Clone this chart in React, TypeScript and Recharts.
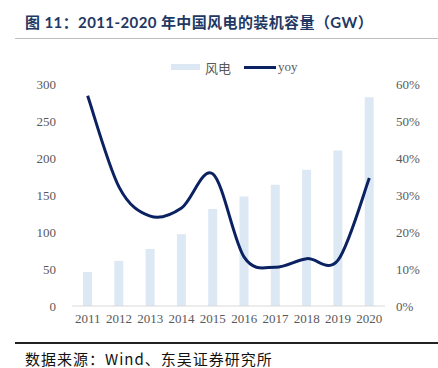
import React from "react";
import { ComposedChart, Bar, Line, XAxis, YAxis } from "recharts";

const years = ["2011", "2012", "2013", "2014", "2015", "2016", "2017", "2018", "2019", "2020"];
const windCapacity = [46, 61, 77, 97, 131, 148, 164, 184, 210, 282];
const yoyPct = [56.8, 32.2, 24.3, 26.5, 35.7, 13.2, 10.5, 12.8, 12.4, 34.6];
const leftTicks = [0, 50, 100, 150, 200, 250, 300];
const rightTicks = [0, 10, 20, 30, 40, 50, 60];

const data = years.map((y, i) => ({ year: y, wind: windCapacity[i], yoy: yoyPct[i] }));

// Catmull-Rom style smoothing (similar to Excel smoothed lines)
const smoothCurve = (context: any) => {
  let pts: [number, number][] = [];
  return {
    areaStart() {},
    areaEnd() {},
    lineStart() {
      pts = [];
    },
    point(x: number, y: number) {
      pts.push([+x, +y]);
    },
    lineEnd() {
      const n = pts.length;
      if (!n) return;
      context.moveTo(pts[0][0], pts[0][1]);
      for (let i = 0; i < n - 1; i++) {
        const p0 = pts[i - 1] || pts[i];
        const p1 = pts[i];
        const p2 = pts[i + 1];
        const p3 = pts[i + 2] || p2;
        const c1x = p1[0] + (p2[0] - p0[0]) / 6;
        const c1y = p1[1] + (p2[1] - p0[1]) / 6;
        const c2x = p2[0] - (p3[0] - p1[0]) / 6;
        const c2y = p2[1] - (p3[1] - p1[1]) / 6;
        context.bezierCurveTo(c1x, c1y, c2x, c2y, p2[0], p2[1]);
      }
    },
  };
};

const BAR_COLOR = "#dde8f5";
const LINE_COLOR = "#0b2262";
const TICK_STYLE = { fill: "#595959", fontSize: 13, fontFamily: "'Liberation Serif', 'DejaVu Serif', serif" };

export default function App() {
  return (
    <div style={{ position: "absolute", left: 0, top: 0, width: 438, height: 368, background: "#fff" }}>
      <div
        style={{
          position: "absolute",
          left: 25,
          top: 11,
          fontSize: 15,
          fontWeight: 700,
          color: "#1f3864",
          fontFamily: "Lato, 'Noto Sans CJK SC', sans-serif",
          whiteSpace: "nowrap",
          letterSpacing: 0.4,
        }}
      >
        图 11：2011-2020 年中国风电的装机容量（GW）
      </div>
      <div style={{ position: "absolute", left: 15, top: 38, width: 423, height: 1, background: "#bfbfbf" }} />
      <div
        style={{
          position: "absolute",
          left: 171,
          top: 58,
          height: 18,
          display: "flex",
          alignItems: "center",
          fontSize: 13,
          color: "#595959",
          fontFamily: "'Liberation Serif', 'Noto Sans CJK SC', serif",
          whiteSpace: "nowrap",
        }}
      >
        <span style={{ display: "inline-block", width: 29, height: 6, background: BAR_COLOR, marginRight: 5 }} />
        <span style={{ marginRight: 13 }}>风电</span>
        <span style={{ display: "inline-block", width: 32, height: 3, background: LINE_COLOR, marginRight: 2 }} />
        <span>yoy</span>
      </div>
      <ComposedChart width={438} height={368} data={data} margin={{ top: 84, right: 3, bottom: 32, left: 22 }}>
        <XAxis
          dataKey="year"
          tick={TICK_STYLE}
          tickLine={false}
          axisLine={{ stroke: "#d9d9d9" }}
          height={30}
          interval={0}
        />
        <YAxis
          yAxisId="left"
          domain={[0, 300]}
          ticks={leftTicks}
          tick={TICK_STYLE}
          tickLine={false}
          axisLine={false}
          width={50}
          tickMargin={10}
        />
        <YAxis
          yAxisId="right"
          orientation="right"
          domain={[0, 60]}
          ticks={rightTicks}
          tickFormatter={(v: number) => `${v}%`}
          tick={{ ...TICK_STYLE, textAnchor: "start" }}
          tickLine={false}
          axisLine={false}
          width={50}
          tickMargin={5}
        />
        <Bar yAxisId="left" dataKey="wind" fill={BAR_COLOR} barSize={9} isAnimationActive={false} />
        <Line
          yAxisId="right"
          dataKey="yoy"
          type={smoothCurve as any}
          stroke={LINE_COLOR}
          strokeWidth={3}
          dot={false}
          activeDot={false}
          isAnimationActive={false}
        />
      </ComposedChart>
      <div style={{ position: "absolute", left: 15, top: 342, width: 423, height: 2, background: "#222" }} />
      <div
        style={{
          position: "absolute",
          left: 25,
          top: 348,
          fontSize: 15,
          color: "#111",
          fontFamily: "'Noto Sans CJK SC', sans-serif",
          whiteSpace: "nowrap",
          letterSpacing: 1,
        }}
      >
        数据来源：Wind、东吴证券研究所
      </div>
    </div>
  );
}
